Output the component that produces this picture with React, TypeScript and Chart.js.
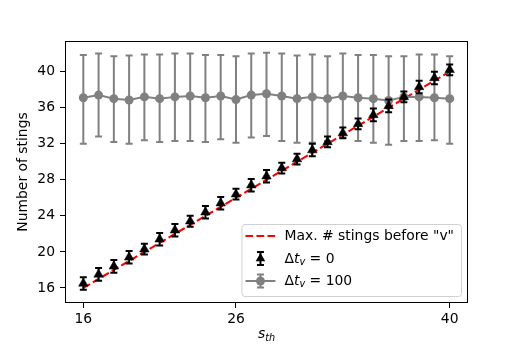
import React, { useEffect, useRef } from 'react';
import { Chart, registerables } from 'chart.js';
Chart.register(...registerables);

const sTh = [16, 17, 18, 19, 20, 21, 22, 23, 24, 25, 26, 27, 28, 29, 30, 31, 32, 33, 34, 35, 36, 37, 38, 39, 40];
const stingsDt0 = [16.5, 17.5, 18.4, 19.4, 20.3, 21.4, 22.4, 23.4, 24.4, 25.4, 26.4, 27.4, 28.4, 29.3, 30.3, 31.3, 32.2, 33.2, 34.2, 35.2, 36.2, 37.2, 38.3, 39.3, 40.2];
const errDt0 = [0.7, 0.7, 0.7, 0.7, 0.6, 0.7, 0.7, 0.6, 0.7, 0.7, 0.6, 0.7, 0.7, 0.6, 0.6, 0.7, 0.6, 0.6, 0.6, 0.7, 0.7, 0.6, 0.7, 0.7, 0.6];
const stingsDt100 = [37.1, 37.4, 37.0, 36.85, 37.2, 37.0, 37.2, 37.3, 37.1, 37.3, 36.9, 37.4, 37.55, 37.3, 37.0, 37.2, 37.0, 37.3, 37.1, 37.0, 36.8, 37.2, 37.2, 37.1, 37.0];
const highDt100 = [41.85, 42.0, 41.7, 41.8, 41.9, 41.9, 42.0, 42.0, 41.85, 41.85, 41.7, 42.0, 42.1, 42.0, 41.8, 41.9, 41.7, 42.0, 41.85, 41.85, 41.7, 41.7, 41.9, 41.9, 41.7];
const lowDt100 = [32.0, 32.8, 32.2, 32.0, 32.4, 32.2, 32.3, 32.3, 32.2, 32.5, 32.1, 32.7, 32.85, 32.3, 32.1, 32.1, 32.3, 32.7, 32.3, 32.1, 31.9, 32.3, 32.3, 32.4, 32.0];
const maxLineX = [16, 40];
const maxLineY = [16, 40];
const xTicks = [16, 26, 40];
const yTicks = [16, 20, 24, 28, 32, 36, 40];

const FONT = '"DejaVu Sans", sans-serif';
const FS = 13.9;
const GRAY = '#808080';
const RED_DASH = [7.7, 3.3];

function drawErrBar(ctx: CanvasRenderingContext2D, x: number, y1: number, y2: number, color: string, cap: number, lw: number) {
  ctx.save();
  ctx.strokeStyle = color;
  ctx.lineWidth = lw;
  ctx.beginPath();
  ctx.moveTo(x, y1);
  ctx.lineTo(x, y2);
  ctx.moveTo(x - cap, y1);
  ctx.lineTo(x + cap, y1);
  ctx.moveTo(x - cap, y2);
  ctx.lineTo(x + cap, y2);
  ctx.stroke();
  ctx.restore();
}

function drawMath(ctx: CanvasRenderingContext2D, x: number, y: number, parts: { t: string; it?: boolean; sub?: boolean }[], measureOnly = false): number {
  let cx = x;
  for (const p of parts) {
    const size = p.sub ? FS * 0.7 : FS;
    ctx.font = `${p.it ? 'italic ' : ''}${size}px ${FONT}`;
    const w = ctx.measureText(p.t).width;
    if (!measureOnly) ctx.fillText(p.t, cx, y + (p.sub ? 3 : 0));
    cx += w;
  }
  return cx - x;
}

const customPlugin = {
  id: 'custom',
  beforeDatasetDraw(chart: any, args: any) {
    const ctx = chart.ctx;
    const xs = chart.scales.x;
    const ys = chart.scales.y;
    if (args.index === 1) {
      sTh.forEach((v, i) => {
        drawErrBar(ctx, xs.getPixelForValue(v), ys.getPixelForValue(highDt100[i]), ys.getPixelForValue(lowDt100[i]), GRAY, 3.5, 2);
      });
    }
    if (args.index === 0) {
      sTh.forEach((v, i) => {
        drawErrBar(ctx, xs.getPixelForValue(v), ys.getPixelForValue(stingsDt0[i] + errDt0[i]), ys.getPixelForValue(stingsDt0[i] - errDt0[i]), '#000', 3.5, 2);
      });
    }
  },
  afterDraw(chart: any) {
    const ctx: CanvasRenderingContext2D = chart.ctx;
    const ca = chart.chartArea;
    ctx.save();
    // frame
    ctx.strokeStyle = '#000';
    ctx.lineWidth = 1;
    ctx.strokeRect(Math.round(ca.left) + 0.5, Math.round(ca.top) + 0.5, Math.round(ca.right - ca.left) - 1, Math.round(ca.bottom - ca.top) - 1);

    // axis titles
    ctx.fillStyle = '#000';
    ctx.textBaseline = 'alphabetic';
    const xParts = [{ t: 's', it: true }, { t: 'th', it: true, sub: true }];
    const xw = drawMath(ctx, 0, 0, xParts, true);
    drawMath(ctx, (ca.left + ca.right) / 2 - xw / 2, 338, xParts);

    ctx.save();
    ctx.translate(23, (ca.top + ca.bottom) / 2);
    ctx.rotate(-Math.PI / 2);
    ctx.font = `${FS}px ${FONT}`;
    ctx.textAlign = 'center';
    ctx.textBaseline = 'middle';
    ctx.fillText('Number of stings', 0, 0);
    ctx.restore();

    // legend
    const rows: { t: string; it?: boolean; sub?: boolean }[][] = [
      [{ t: 'Max. # stings before "v"' }],
      [{ t: 'Δ' }, { t: 't', it: true }, { t: 'v', it: true, sub: true }, { t: ' = 0' }],
      [{ t: 'Δ' }, { t: 't', it: true }, { t: 'v', it: true, sub: true }, { t: ' = 100' }],
    ];
    let maxW = 0;
    rows.forEach((r) => { maxW = Math.max(maxW, drawMath(ctx, 0, 0, r, true)); });
    const right = ca.right - 7;
    const bottom = ca.bottom - 7;
    const boxW = 43 + maxW + 7;
    const boxH = 72;
    const left = right - boxW;
    const top = bottom - boxH;
    ctx.beginPath();
    (ctx as any).roundRect(left + 0.5, top + 0.5, boxW, boxH, 3);
    ctx.fillStyle = 'rgba(255,255,255,0.8)';
    ctx.fill();
    ctx.strokeStyle = '#d0d0d0';
    ctx.lineWidth = 1;
    ctx.stroke();

    const hx0 = left + 4;
    const hx1 = left + 34;
    const hxc = (hx0 + hx1) / 2;
    const rowY = [top + 12, top + 34.5, top + 57];
    // row 1: red dashed
    ctx.save();
    ctx.strokeStyle = '#ff0000';
    ctx.lineWidth = 2.1;
    ctx.setLineDash(RED_DASH);
    ctx.beginPath();
    ctx.moveTo(hx0, rowY[0]);
    ctx.lineTo(hx1, rowY[0]);
    ctx.stroke();
    ctx.restore();
    // row 2: black triangle
    drawErrBar(ctx, hxc, rowY[1] - 6.5, rowY[1] + 6.5, '#000', 3.5, 2);
    ctx.fillStyle = '#000';
    ctx.beginPath();
    const r = 5.5;
    ctx.moveTo(hxc, rowY[1] - r);
    ctx.lineTo(hxc + Math.sin(2 * Math.PI / 3) * r, rowY[1] + r / 2);
    ctx.lineTo(hxc - Math.sin(2 * Math.PI / 3) * r, rowY[1] + r / 2);
    ctx.closePath();
    ctx.fill();
    // row 3: gray line + circle
    ctx.strokeStyle = GRAY;
    ctx.lineWidth = 2;
    ctx.beginPath();
    ctx.moveTo(hx0, rowY[2]);
    ctx.lineTo(hx1, rowY[2]);
    ctx.stroke();
    drawErrBar(ctx, hxc, rowY[2] - 6.5, rowY[2] + 6.5, GRAY, 3.5, 2);
    ctx.fillStyle = GRAY;
    ctx.beginPath();
    ctx.arc(hxc, rowY[2], 4.5, 0, Math.PI * 2);
    ctx.fill();

    ctx.fillStyle = '#000';
    ctx.textBaseline = 'middle';
    rows.forEach((row, i) => drawMath(ctx, left + 43, rowY[i] + 0.5, row));
    ctx.restore();
  },
};

export default function App() {
  const ref = useRef<HTMLCanvasElement | null>(null);
  useEffect(() => {
    document.body.style.margin = '0';
    const canvas = ref.current;
    if (!canvas) return;
    const chart = new Chart(canvas, {
      type: 'scatter',
      data: {
        datasets: [
          {
            label: 'dt0',
            data: sTh.map((x, i) => ({ x, y: stingsDt0[i] })),
            showLine: false,
            pointStyle: 'triangle',
            pointRadius: 5.5,
            pointBackgroundColor: '#000',
            pointBorderColor: '#000',
            pointBorderWidth: 0.5,
          },
          {
            label: 'dt100',
            data: sTh.map((x, i) => ({ x, y: stingsDt100[i] })),
            showLine: true,
            borderColor: GRAY,
            borderWidth: 2,
            pointRadius: 4.5,
            pointBackgroundColor: GRAY,
            pointBorderColor: GRAY,
            pointBorderWidth: 0,
          },
          {
            label: 'max',
            data: maxLineX.map((x, i) => ({ x, y: maxLineY[i] })),
            showLine: true,
            borderColor: '#ff0000',
            borderWidth: 2.1,
            borderDash: RED_DASH,
            pointRadius: 0,
          },
        ],
      },
      options: {
        animation: false,
        responsive: false,
        devicePixelRatio: 1,
        layout: { padding: { left: 0, top: 41, right: 52, bottom: 0 } },
        plugins: { legend: { display: false }, tooltip: { enabled: false } },
        scales: {
          x: {
            type: 'linear',
            min: 14.8,
            max: 41.2,
            afterFit: (s: any) => { s.height = 43; },
            afterBuildTicks: (s: any) => { s.ticks = xTicks.map((v) => ({ value: v })); },
            border: { display: false },
            grid: { display: true, drawOnChartArea: false, drawTicks: true, tickLength: 5, color: '#000', lineWidth: 1 },
            ticks: { color: '#000', font: { family: FONT, size: FS }, padding: 3, autoSkip: false, maxRotation: 0 },
          },
          y: {
            type: 'linear',
            min: 14.33,
            max: 43.4,
            afterFit: (s: any) => { s.width = 65; },
            afterBuildTicks: (s: any) => { s.ticks = yTicks.map((v) => ({ value: v })); },
            border: { display: false },
            grid: { display: true, drawOnChartArea: false, drawTicks: true, tickLength: 5, color: '#000', lineWidth: 1 },
            ticks: { color: '#000', font: { family: FONT, size: FS }, padding: 5 },
          },
        },
      },
      plugins: [customPlugin],
    } as any);
    return () => chart.destroy();
  }, []);
  return (
    <div style={{ position: 'fixed', left: 0, top: 0, width: 520, height: 346, background: '#fff' }}>
      <canvas ref={ref} width={520} height={346} style={{ width: 520, height: 346 }} />
    </div>
  );
}
